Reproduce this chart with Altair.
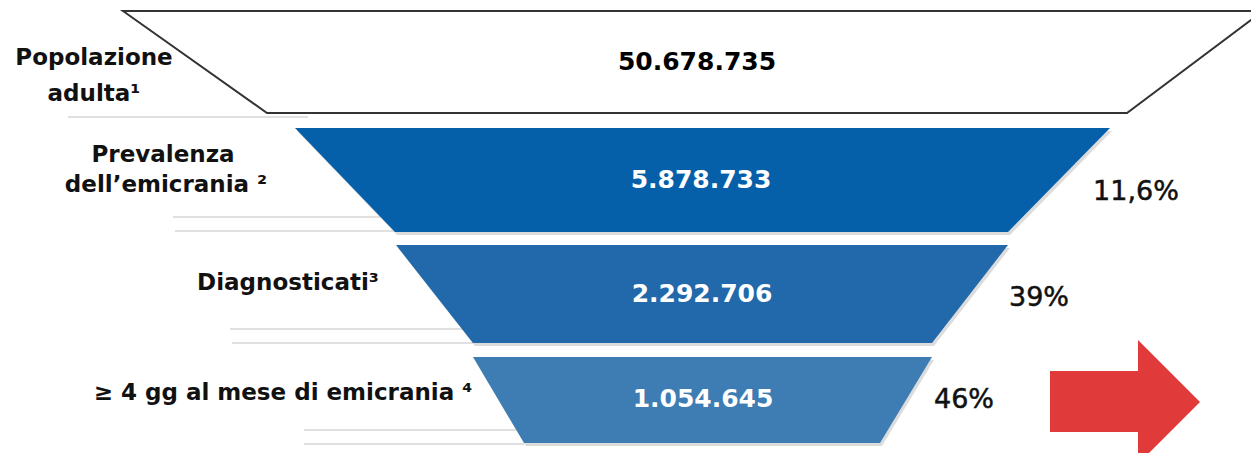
import altair as alt
import pandas as pd

# ---- data ----
stage_names = ["Popolazione adulta", "Prevalenza dell'emicrania", "Diagnosticati",
               "≥ 4 gg al mese di emicrania"]
stage_values = [50678735, 5878733, 2292706, 1054645]
stage_pcts = [None, 11.6, 39, 46]

# label lines (as printed)
label_lines = [["Popolazione", "adulta¹"],
               ["Prevalenza", "dell’emicrania ²"],
               ["Diagnosticati³"],
               ["≥ 4 gg al mese di emicrania ⁴"]]

# ---- layout (page pixel geometry) ----
fills = ["#FFFFFF", "#0660A9", "#2169AA", "#3D7DB3"]
top_y = [11, 128, 245, 357]
bot_y = [113, 232, 343, 443]
top_l = [123, 295, 396, 473]
top_r = [1263, 1110, 1008, 932]
bot_l = [267, 395, 473, 524]
bot_r = [1127, 1008, 932, 880]
value_pos = [(697, 62), (701, 180), (702, 294), (703, 399)]
pct_pos = [None, (1136, 192), (1039, 298), (964, 400)]
label_pos = [[(94, 65), (94, 101)], [(163, 162), (166, 192)], [(288, 290)], [(283, 400)]]
rules = [(68, 308, 117), (173, 381, 217), (175, 395, 231), (230, 464, 329),
         (232, 473, 343), (304, 516, 430), (304, 524, 444)]
shadow_dx, shadow_dy = 2, 3

W, H = 1243, 445
xs = alt.Scale(domain=[8, 8 + W], nice=False, zero=False)
ys = alt.Scale(domain=[8, 8 + H], nice=False, zero=False, reverse=True)


def fmt(n):
    return f"{n:,}".replace(",", ".")


def fmt_pct(p):
    s = f"{p:g}".replace(".", ",")
    return s + "%"


poly_rows = []
for i in range(4):
    poly_rows.append(dict(stage=i, y=top_y[i], xl=top_l[i], xr=top_r[i], fill=fills[i]))
    poly_rows.append(dict(stage=i, y=bot_y[i], xl=bot_l[i], xr=bot_r[i], fill=fills[i]))
poly = pd.DataFrame(poly_rows)

shadow = poly[poly.stage > 0].copy()
shadow["y"] = shadow["y"] + shadow_dy
shadow["xl"] = shadow["xl"] + shadow_dx
shadow["xr"] = shadow["xr"] + shadow_dx

base_enc = dict(
    y=alt.Y("y:Q", scale=ys, axis=None),
    x=alt.X("xl:Q", scale=xs, axis=None),
    x2="xr:Q",
    detail="stage:N",
)

shadow_area = alt.Chart(shadow).mark_area(
    orient="horizontal", fill="#BFBFBF", opacity=0.55, clip=True
).encode(**base_enc)

top_area = alt.Chart(poly[poly.stage == 0]).mark_area(
    orient="horizontal", fill="white", stroke="#333333", strokeWidth=2, clip=True
).encode(**base_enc)

blue_area = alt.Chart(poly[poly.stage > 0]).mark_area(
    orient="horizontal", clip=True
).encode(**base_enc, fill=alt.Fill("fill:N", scale=None))

rule_df = pd.DataFrame(rules, columns=["x1", "x2", "y"])
rule_layer = alt.Chart(rule_df).mark_rule(color="#D6D6D6", strokeWidth=1.5).encode(
    x=alt.X("x1:Q", scale=xs, axis=None), x2="x2:Q", y=alt.Y("y:Q", scale=ys, axis=None)
)

val_df = pd.DataFrame(dict(
    text=[fmt(v) for v in stage_values],
    x=[p[0] for p in value_pos], y=[p[1] for p in value_pos],
    color=["#000000", "#FFFFFF", "#FFFFFF", "#FFFFFF"],
))
val_layer = alt.Chart(val_df).mark_text(
    font="DejaVu Sans", fontSize=25, fontWeight="bold", baseline="middle", align="center"
).encode(
    x=alt.X("x:Q", scale=xs, axis=None), y=alt.Y("y:Q", scale=ys, axis=None),
    text="text:N", color=alt.Color("color:N", scale=None)
)

pct_rows = []
for i, p in enumerate(stage_pcts):
    if p is not None:
        pct_rows.append(dict(text=fmt_pct(p), x=pct_pos[i][0], y=pct_pos[i][1]))
pct_layer = alt.Chart(pd.DataFrame(pct_rows)).mark_text(
    font="DejaVu Sans", fontSize=27, baseline="middle", align="center", color="#111111",
    stroke="#111111", strokeWidth=0.5
).encode(
    x=alt.X("x:Q", scale=xs, axis=None), y=alt.Y("y:Q", scale=ys, axis=None), text="text:N"
)

lab_rows = []
for i, lines in enumerate(label_lines):
    for j, t in enumerate(lines):
        lab_rows.append(dict(text=t, x=label_pos[i][j][0], y=label_pos[i][j][1]))
lab_layer = alt.Chart(pd.DataFrame(lab_rows)).mark_text(
    font="DejaVu Sans", fontSize=23, fontWeight="bold", baseline="alphabetic",
    align="center", color="#111111"
).encode(
    x=alt.X("x:Q", scale=xs, axis=None), y=alt.Y("y:Q", scale=ys, axis=None), text="text:N"
)

# arrow
arrow_body = pd.DataFrame(dict(x1=[1050], x2=[1138], y1=[371], y2=[432]))
body_layer = alt.Chart(arrow_body).mark_rect(color="#E03A3A").encode(
    x=alt.X("x1:Q", scale=xs, axis=None), x2="x2:Q",
    y=alt.Y("y1:Q", scale=ys, axis=None), y2="y2:Q"
)
arrow_head = pd.DataFrame(dict(x=[1138, 1200], y1=[340, 402], y2=[464, 402]))
head_layer = alt.Chart(arrow_head).mark_area(color="#E03A3A", orient="vertical", clip=True).encode(
    x=alt.X("x:Q", scale=xs, axis=None),
    y=alt.Y("y1:Q", scale=ys, axis=None), y2="y2:Q"
)

chart = alt.layer(
    rule_layer, shadow_area, top_area, blue_area, val_layer, pct_layer, lab_layer,
    body_layer, head_layer
).properties(width=W, height=H, padding=0).configure_view(stroke=None)

chart.save("out.html", embed_options={"renderer": "svg", "actions": False})
